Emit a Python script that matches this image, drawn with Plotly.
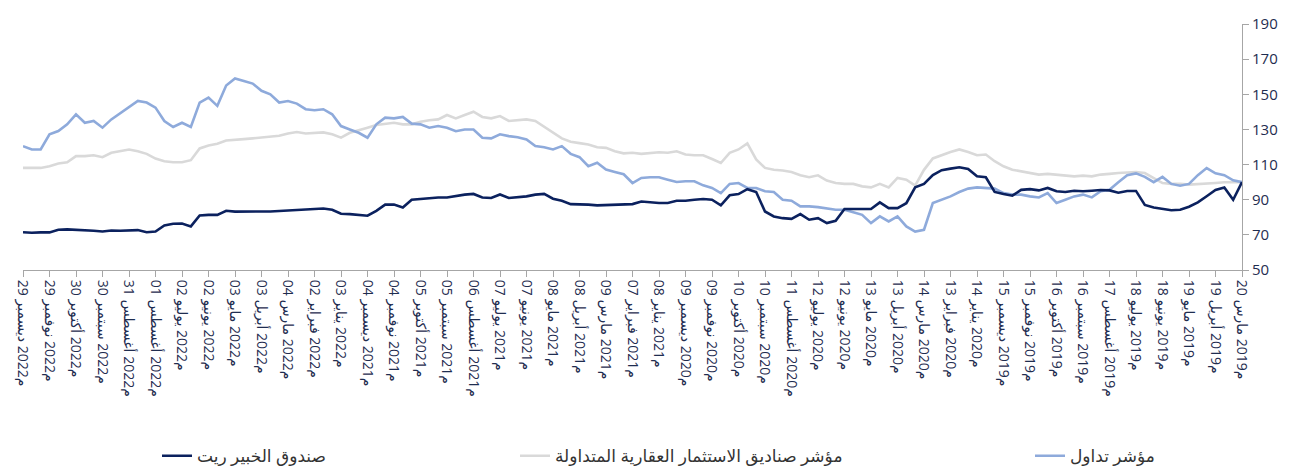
import pandas as pd
import plotly.graph_objects as go

# Dates: every 10 days starting 20 Mar 2019 (index 0) to 29 Dec 2022 (index 138)
dates = pd.date_range("2019-03-20", periods=139, freq="10D")

alkhabeer_reit = [
    100, 90, 97, 95.5, 92, 88.5, 86, 84.3, 84, 84.7,
    85.6, 87, 95, 95, 94, 95.3, 95.5, 95.1, 94.8, 95.1,
    94.4, 94.8, 96.7, 95.3, 96, 95.6, 92.3, 93.2, 94.4, 102.8,
    103.3, 107.5, 108.5, 107.7, 106.8, 104, 99, 97, 88, 85.2,
    85.2, 88.5, 84.7, 84.7, 84.9, 84.7, 78, 76.7, 79.5, 78.6,
    81.8, 79.1, 79.5, 80.5, 83.3, 94.4, 96, 93.2, 92.5, 86.8,
    90, 90.4, 90, 89.4, 89.4, 88.1, 88.1, 88.7, 89, 87.5,
    87.3, 87.2, 87.2, 86.8, 87.2, 87.2, 87.5, 89.4, 90.6, 93.3,
    92.9, 91.9, 91.3, 91, 93, 91, 91.3, 93.3, 92.9, 91.9,
    91.3, 91.3, 91, 90.6, 90, 85.6, 87.2, 87.2, 83.7, 80.9,
    81.5, 81.8, 82, 84.3, 85, 84.7, 84.3, 84.1, 83.7, 83.3,
    83.3, 83.3, 83.3, 83.3, 83.2, 83.7, 81.4, 81.4, 81, 74.8,
    76.5, 76.3, 75.4, 71.9, 71.5, 72.7, 72.3, 72.3, 72.5, 71.9,
    72.3, 72.5, 73.1, 73.1, 72.9, 71.4, 71.4, 71.2, 71.5,
]

reit_index = [
    100, 100.1, 99.9, 99.5, 99.1, 99, 98.6, 99, 99, 99.5,
    102.4, 105.2, 105.8, 105.6, 105.2, 104.7, 104.3, 103.3, 103.7, 103.3,
    103.7, 104.3, 104.7, 104.3, 105.2, 106.2, 107.1, 109, 111.9, 115.7,
    115.3, 117.2, 118.6, 117.2, 115.3, 113.5, 107, 98, 101.4, 102.4,
    97, 99, 97, 97.6, 99, 99, 99.5, 100.9, 103.9, 102.8,
    103.9, 105.8, 106.6, 107.1, 108.1, 112.9, 122, 118.6, 116.7, 110.9,
    113.2, 115.3, 115.3, 115.7, 117.6, 116.7, 117, 116.7, 116.1, 116.7,
    116.4, 117.6, 119.5, 119.9, 121.4, 122.2, 123, 124.9, 128.1, 131.4,
    134.8, 135.7, 135.2, 134.8, 137.6, 136.3, 137.1, 140.1, 138.2, 136.3,
    138.2, 135.7, 135.2, 134.4, 132.9, 132.9, 133.8, 133.3, 132.5, 131,
    129.4, 128.1, 125.3, 127.2, 128.3, 128.1, 127.7, 128.5, 127.7, 126.4,
    125.8, 125.3, 124.9, 124.5, 123.9, 123.7, 121.8, 120.9, 119.2, 112.5,
    111.3, 111.3, 111.9, 113.4, 116.1, 117.6, 118.6, 117.6, 116.7, 114.2,
    115.3, 114.8, 114.8, 111.3, 110.6, 109.1, 108.1, 108.1, 108.1,
]

tasi_index = [
    100, 101, 104, 105, 108, 104, 99, 98, 99, 103,
    100, 103, 105, 104, 100, 95.7, 94.8, 91.3, 92.9, 91.9,
    90, 88.1, 93.8, 91.3, 91.9, 92.9, 92.9, 93.8, 96.3, 96.7,
    97, 96.3, 94.4, 91.9, 90, 88.1, 72.9, 71.9, 74.8, 80.5,
    77.6, 80.5, 76.7, 81.4, 82.8, 84.3, 84.3, 85.2, 85.8, 86.2,
    86.2, 89.4, 90, 94.4, 94.8, 96.7, 96.7, 99.5, 99, 93.8,
    96.7, 98.2, 100.5, 100.5, 100.1, 101.4, 102.8, 102.8, 102.4, 99.5,
    104.5, 105.8, 107.2, 111, 109.1, 114.2, 116.1, 120.5, 118.6, 119.9,
    120.5, 124.3, 125.6, 126.2, 127.2, 124.9, 125.3, 130, 130, 129,
    131, 131.9, 131, 132.9, 133.3, 137.1, 136.3, 136.7, 132.9, 125.3,
    128.1, 130, 131.9, 138.6, 141.5, 140.9, 141.5, 144.7, 146.2, 145.3,
    150, 152, 156.1, 157.6, 159, 155, 143.4, 148.1, 145.3, 131.4,
    133.8, 131.4, 134.8, 142.4, 145.3, 146.2, 142.8, 139.5, 135.7, 131,
    134.8, 133.8, 138.6, 132.9, 129.1, 127.2, 118.6, 118.6, 120.5,
]

series_names = [
    "صندوق الخبير ريت",
    "مؤشر صناديق الاستثمار العقارية المتداولة",
    "مؤشر تداول",
]

# Tick labels (every 30 days from 20 Mar 2019)
tick_dates = pd.date_range("2019-03-20", periods=47, freq="30D")
arabic_months = ["يناير", "فبراير", "مارس", "أبريل", "مايو", "يونيو",
                 "يوليو", "أغسطس", "سبتمبر", "أكتوبر", "نوفمبر", "ديسمبر"]
tick_text = [f"{d.day:02d} {arabic_months[d.month - 1]}\u200e {d.year}\u200eم" for d in tick_dates]

y_ticks = [50, 70, 90, 110, 130, 150, 170, 190]

colors = ["#0b215e", "#d9d9d9", "#8eaadb"]
navy_text = "#1f2d50"
font_family = "Open Sans, DejaVu Sans"

fig = go.Figure()
for k, (name, vals) in enumerate(zip(series_names, [alkhabeer_reit, reit_index, tasi_index])):
    fig.add_trace(go.Scatter(
        x=dates, y=vals, mode="lines", name=name,
        line=dict(color=colors[k], width=2.6),
        legend=["legend", "legend2", "legend3"][k],
    ))
# draw order: gray, blue, navy on top
fig.data = (fig.data[1], fig.data[2], fig.data[0])

legend_style = dict(orientation="h", xref="container", yref="container",
                    yanchor="bottom", y=0.008, xanchor="left",
                    font=dict(family=font_family, size=17, color="#333333"),
                    bgcolor="rgba(0,0,0,0)")

fig.update_layout(
    width=1291, height=470,
    margin=dict(l=15, r=57, t=16, b=208, autoexpand=False),
    plot_bgcolor="white", paper_bgcolor="white",
    showlegend=True,
    legend=dict(**legend_style, x=149 / 1291),
    legend2=dict(**legend_style, x=507 / 1291),
    legend3=dict(**legend_style, x=1022 / 1291),
    xaxis=dict(
        type="date", automargin=False,
        range=[tick_dates[-1], tick_dates[0]],
        tickmode="array", tickvals=tick_dates, ticktext=tick_text,
        tickangle=90,
        ticks="outside", ticklen=6, tickcolor="#a6a6a6",
        showline=True, linecolor="#a6a6a6", linewidth=1,
        showgrid=False, zeroline=False,
        tickfont=dict(family=font_family, size=14, color=navy_text),
    ),
    yaxis=dict(
        side="right", range=[50, 190], automargin=False,
        tickmode="array", tickvals=y_ticks,
        ticks="outside", ticklen=6, tickcolor="#a6a6a6",
        showline=True, linecolor="#a6a6a6", linewidth=1,
        showgrid=False, zeroline=False,
        tickfont=dict(family=font_family, size=15, color=navy_text),
    ),
)

fig.write_html("out.html")
